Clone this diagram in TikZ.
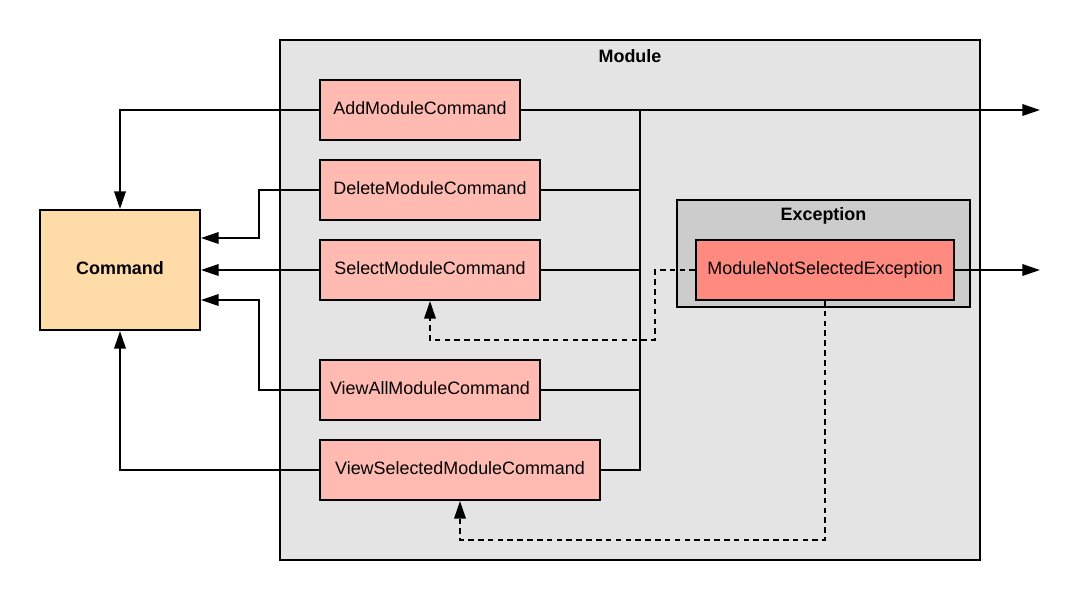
\documentclass[tikz,border=0pt]{standalone}
\usepackage{fontspec}
\setmainfont{Liberation Sans}
\usetikzlibrary{arrows.meta,calc}
\definecolor{modfill}{HTML}{E4E4E4}
\definecolor{excfill}{HTML}{CCCCCC}
\definecolor{cmdfill}{HTML}{FFBBB1}
\definecolor{errfill}{HTML}{FF8A80}
\definecolor{basefill}{HTML}{FFDBA8}
\tikzset{
  box/.style={draw, line width=1.1pt, inner sep=0pt, align=center, text depth=2.4pt, font=\fontsize{10.2}{12}\selectfont},
  cmdbox/.style={box, fill=cmdfill, minimum height=1.2cm},
  lbl/.style={font=\fontsize{10.2}{12}\selectfont\bfseries, inner sep=0pt},
  link/.style={line width=1.1pt},
  arr/.style={link, -{Triangle[length=10pt,width=6.5pt]}},
  dep/.style={arr, dash pattern=on 3.2pt off 2.4pt},
}
\begin{document}
\begin{tikzpicture}[x=0.02cm,y=-0.02cm]
\useasboundingbox (0,0) rectangle (1077,600);
% frames
\node[box, fill=modfill, minimum width=14cm, minimum height=10.4cm] (module) at (630,300) {};
\node[lbl] (modlbl) at (630,56) {Module};
\node[box, fill=excfill, minimum width=5.86cm, minimum height=2.14cm] (excframe) at (823.5,253.5) {};
\node[lbl] (exclbl) at (823.5,216) {Exception};
% coordinates
\coordinate (bt) at (640,110);
\coordinate (out1) at (1040,110);
\coordinate (out2) at (1040,270);
\coordinate (d1) at (655,340);
\coordinate (d2) at (460,540);
% boxes
\node[cmdbox, minimum width=4cm] (add) at (420,110) {AddModuleCommand};
\node[cmdbox, minimum width=4.4cm] (delete) at (430,190) {DeleteModuleCommand};
\node[cmdbox, minimum width=4.4cm] (select) at (430,270) {SelectModuleCommand};
\node[cmdbox, minimum width=4.4cm] (viewall) at (430,390) {ViewAllModuleCommand};
\node[cmdbox, minimum width=5.6cm] (viewsel) at (460,470) {ViewSelectedModuleCommand};
\node[box, fill=basefill, minimum width=3.2cm, minimum height=2.4cm, font=\fontsize{10.2}{12}\selectfont\bfseries] (command) at (120,270) {Command};
\node[box, fill=errfill, minimum width=5.16cm, minimum height=1.2cm] (mnse) at (825,270) {ModuleNotSelectedException};
% left connectors
\draw[arr] (add.west) -| (command.north);
\draw[arr] (delete.west) -- ++(-60,0) |- ($(command.east)+(0,-32)$);
\draw[arr] (select.west) -- (command.east);
\draw[arr] (viewall.west) -- ++(-60,0) |- ($(command.east)+(0,30)$);
\draw[arr] (viewsel.west) -| (command.south);
% right bus
\draw[link] (viewsel.east) -| (bt);
\draw[arr] (add.east) -- (out1);
\draw[link] (delete.east) -- (delete.east -| bt);
\draw[link] (select.east) -- (select.east -| bt);
\draw[link] (viewall.east) -- (viewall.east -| bt);
% exception
\draw[arr] (mnse.east) -- (out2);
\draw[dep] (mnse.west) -| (d1) -| (select.south);
\draw[dep] (mnse.south) |- (d2) -- (viewsel.south);
\end{tikzpicture}
\end{document}
